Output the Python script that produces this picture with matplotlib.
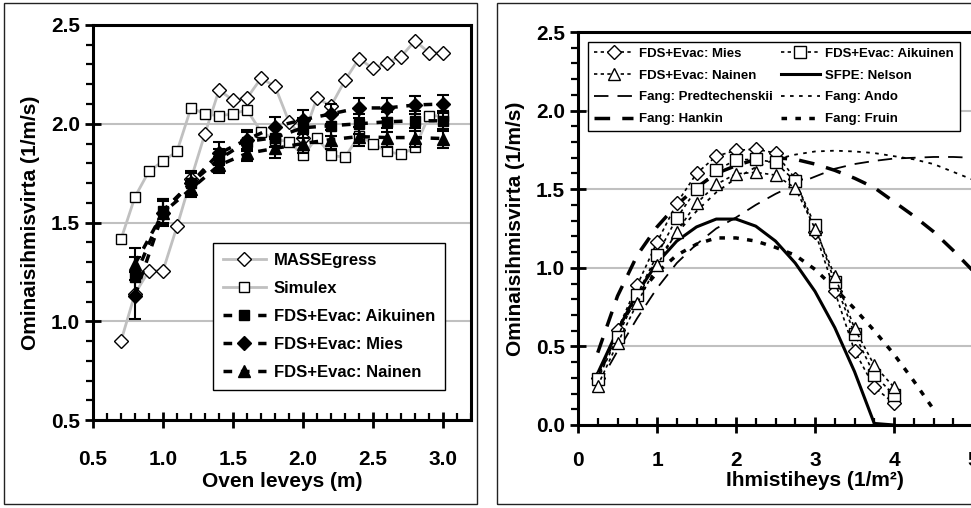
import matplotlib
matplotlib.use('Agg')
import matplotlib.pyplot as plt
import matplotlib.patches as mpatches
from matplotlib.ticker import MultipleLocator, FormatStrFormatter
from matplotlib.lines import Line2D

plt.rcParams['font.family'] = ['Liberation Sans', 'DejaVu Sans']
plt.rcParams['font.weight'] = 'bold'
plt.rcParams['axes.labelweight'] = 'bold'

# --- left panel: flow vs door width ---
mass_x = [0.7, 0.8, 0.9, 1.0, 1.1, 1.2, 1.3, 1.4, 1.5, 1.6, 1.7, 1.8, 1.9, 2.0,
          2.1, 2.2, 2.3, 2.4, 2.5, 2.6, 2.7, 2.8, 2.9, 3.0]
mass_y = [0.90, 1.14, 1.256, 1.256, 1.48, 1.72, 1.95, 2.17, 2.12, 2.13, 2.23, 2.19, 2.01, 1.93,
          2.13, 2.09, 2.22, 2.33, 2.28, 2.31, 2.34, 2.42, 2.36, 2.36]

simx_x = [0.7, 0.8, 0.9, 1.0, 1.1, 1.2, 1.3, 1.4, 1.5, 1.6, 1.7, 1.8, 1.9, 2.0,
          2.1, 2.2, 2.3, 2.4, 2.5, 2.6, 2.7, 2.8, 2.9, 3.0]
simx_y = [1.415, 1.63, 1.76, 1.81, 1.86, 2.08, 2.05, 2.04, 2.05, 2.07, 1.96, 1.92, 1.91, 1.84,
          1.93, 1.84, 1.83, 1.94, 1.90, 1.86, 1.845, 1.88, 2.04, 2.04]

fds_x = [0.8, 1.0, 1.2, 1.4, 1.6, 1.8, 2.0, 2.2, 2.4, 2.6, 2.8, 3.0]
aik_y = [1.226, 1.56, 1.70, 1.82, 1.91, 1.93, 1.98, 1.99, 2.00, 2.01, 2.015, 2.015]
aik_err = [0.10, 0.06, 0.05, 0.05, 0.05, 0.05, 0.05, 0.05, 0.05, 0.05, 0.05, 0.05]
mies_y = [1.13, 1.55, 1.70, 1.85, 1.92, 1.985, 2.02, 2.05, 2.08, 2.08, 2.095, 2.10]
mies_err = [0.12, 0.07, 0.06, 0.06, 0.05, 0.05, 0.05, 0.05, 0.05, 0.05, 0.045, 0.045]
nain_y = [1.29, 1.55, 1.67, 1.79, 1.85, 1.875, 1.90, 1.92, 1.935, 1.93, 1.93, 1.925]
nain_err = [0.08, 0.06, 0.04, 0.04, 0.04, 0.05, 0.05, 0.05, 0.05, 0.05, 0.05, 0.05]

# --- right panel: flow vs density ---
dens_x = [0.25, 0.5, 0.75, 1.0, 1.25, 1.5, 1.75, 2.0, 2.25, 2.5, 2.75, 3.0, 3.25, 3.5, 3.75, 4.0]
r_mies = [0.30, 0.605, 0.89, 1.163, 1.41, 1.60, 1.71, 1.747, 1.755, 1.73, 1.566, 1.23, 0.85, 0.473, 0.24, 0.138]
r_aik = [0.29, 0.56, 0.83, 1.08, 1.316, 1.50, 1.62, 1.687, 1.69, 1.67, 1.55, 1.27, 0.91, 0.58, 0.32, 0.19]
r_nain = [0.25, 0.52, 0.775, 1.015, 1.23, 1.41, 1.53, 1.598, 1.607, 1.59, 1.507, 1.25, 0.95, 0.615, 0.38, 0.24]
nelson_y = [0.33, 0.60, 0.84, 1.03, 1.17, 1.26, 1.31, 1.31, 1.265, 1.17, 1.03, 0.85, 0.62, 0.34, 0.01, 0.0]

fang_x = [0.25, 0.5, 0.75, 1.0, 1.25, 1.5, 1.75, 2.0, 2.25, 2.5, 2.75, 3.0, 3.25, 3.5, 3.75,
          4.0, 4.25, 4.5, 4.75, 5.0, 5.5, 6.0]
predt_y = [0.25, 0.47, 0.68, 0.87, 1.03, 1.15, 1.25, 1.32, 1.40, 1.47, 1.53, 1.58, 1.63, 1.66, 1.68,
           1.695, 1.70, 1.705, 1.705, 1.70, 1.69, 1.68]
hankin_y = [0.46, 0.82, 1.08, 1.26, 1.40, 1.51, 1.60, 1.65, 1.69, 1.70, 1.69, 1.66, 1.62, 1.57, 1.51,
            1.42, 1.33, 1.23, 1.11, 0.98, 0.70, 0.38]
ando_y = [0.32, 0.60, 0.85, 1.05, 1.22, 1.36, 1.48, 1.57, 1.64, 1.69, 1.72, 1.74, 1.745, 1.74, 1.73,
          1.71, 1.69, 1.66, 1.61, 1.56, 1.44, 1.30]
fruin_x = [0.25, 0.5, 0.75, 1.0, 1.25, 1.5, 1.75, 2.0, 2.25, 2.5, 2.75, 3.0, 3.25, 3.5, 3.75,
           4.0, 4.25, 4.5]
fruin_y = [0.30, 0.60, 0.82, 0.97, 1.08, 1.15, 1.19, 1.19, 1.17, 1.13, 1.08, 0.99, 0.87, 0.74, 0.60,
           0.45, 0.28, 0.10]

W, H = 971, 508
fig = plt.figure(figsize=(W / 100, H / 100), dpi=100)

# panel frames
for x0, x1 in [(4, 477), (497, 975)]:
    fig.patches.append(mpatches.Rectangle((x0 / W, 4 / H), (x1 - x0) / W, 501 / H,
                                          transform=fig.transFigure, fill=False,
                                          edgecolor='#222222', linewidth=1.0))

GRAY = '#c0c0c0'


def style_axes(ax, xmaj, xmin, ymaj, ymin, xpad):
    for s in ax.spines.values():
        s.set_linewidth(2.2)
    ax.xaxis.set_major_locator(MultipleLocator(xmaj))
    ax.xaxis.set_minor_locator(MultipleLocator(xmin))
    ax.yaxis.set_major_locator(MultipleLocator(ymaj))
    ax.yaxis.set_minor_locator(MultipleLocator(ymin))
    ax.tick_params(axis='both', which='major', direction='inout', length=11, width=2,
                   labelsize=15, top=False, right=False)
    ax.tick_params(axis='x', which='minor', direction='in', length=5, width=1.6, top=False)
    ax.tick_params(axis='y', which='minor', direction='out', length=5, width=1.6, right=False)
    ax.tick_params(axis='x', which='major', pad=xpad)
    ax.tick_params(axis='y', which='major', pad=4)
    ax.yaxis.grid(True, which='major', color=GRAY, linewidth=1.5)
    ax.set_axisbelow(True)


# ---------------- left ----------------
ax1 = fig.add_axes([93 / W, 88 / H, 378 / W, 395 / H])
style_axes(ax1, 0.5, 0.1, 0.5, 0.1, 16)
ax1.set_xlim(0.5, 3.2)
ax1.set_ylim(0.5, 2.5)
ax1.xaxis.set_major_formatter(FormatStrFormatter('%.1f'))
ax1.yaxis.set_major_formatter(FormatStrFormatter('%.1f'))

ax1.plot(mass_x, mass_y, color=GRAY, lw=2, marker='D', ms=7, mfc='white', mec='black',
         mew=1, label='MASSEgress', zorder=3)
ax1.plot(simx_x, simx_y, color=GRAY, lw=2, marker='s', ms=7.5, mfc='white', mec='black',
         mew=1, label='Simulex', zorder=3)

fds_ls = (0, (2.5, 2.5))
for y, e, m, ms, lab in [(aik_y, aik_err, 's', 7, 'FDS+Evac: Aikuinen'),
                         (mies_y, mies_err, 'D', 7, 'FDS+Evac: Mies'),
                         (nain_y, nain_err, '^', 8, 'FDS+Evac: Nainen')]:
    ax1.errorbar(fds_x, y, yerr=e, color='black', lw=2.5, ls=fds_ls, marker=m, ms=ms,
                 mfc='black', mec='black', ecolor='black', elinewidth=1.5, capsize=4,
                 capthick=1.5, label=lab, zorder=4)

ax1.set_xlabel('Oven leveys (m)', fontsize=15, labelpad=2)
ax1.set_ylabel('Ominaisihmisvirta (1/m/s)', fontsize=15, labelpad=8)

leg1_handles = [
    Line2D([], [], color=GRAY, lw=2, marker='D', ms=7, mfc='white', mec='black', mew=1),
    Line2D([], [], color=GRAY, lw=2, marker='s', ms=7.5, mfc='white', mec='black', mew=1),
    Line2D([], [], color='black', lw=2.5, ls=fds_ls, marker='s', ms=7),
    Line2D([], [], color='black', lw=2.5, ls=fds_ls, marker='D', ms=7),
    Line2D([], [], color='black', lw=2.5, ls=fds_ls, marker='^', ms=8),
]
leg1 = ax1.legend(leg1_handles, ['MASSEgress', 'Simulex', 'FDS+Evac: Aikuinen',
                                 'FDS+Evac: Mies', 'FDS+Evac: Nainen'],
                  loc='lower left', bbox_to_anchor=(0.317, 0.076), fontsize=12,
                  frameon=True, fancybox=False, edgecolor='black', framealpha=1,
                  handlelength=2.6, handletextpad=0.45, labelspacing=0.78,
                  borderpad=0.6, borderaxespad=0)
leg1.get_frame().set_linewidth(1.0)

# ---------------- right ----------------
ax2 = fig.add_axes([578 / W, 83 / H, 474 / W, 393 / H])
style_axes(ax2, 1, 0.25, 0.5, 0.1, 13)
ax2.set_xlim(0, 6)
ax2.set_ylim(0, 2.5)
ax2.xaxis.set_major_formatter(FormatStrFormatter('%d'))
ax2.yaxis.set_major_formatter(FormatStrFormatter('%.1f'))

dot_ls = (0, (2, 2))
ax2.plot(fang_x, predt_y, color='black', lw=1.3, ls=(0, (8, 5)), zorder=2)
ax2.plot(fang_x, hankin_y, color='black', lw=2.5, ls=(0, (4.5, 3.5)), zorder=2)
ax2.plot(fang_x, ando_y, color='black', lw=1.3, ls=(0, (2, 3)), zorder=2)
ax2.plot(fruin_x, fruin_y, color='black', lw=2.5, ls=(0, (1.6, 2.4)), zorder=2)
ax2.plot(dens_x, nelson_y, color='black', lw=2.2, zorder=2)
ax2.plot(dens_x, r_mies, color='black', lw=1.2, ls=dot_ls, marker='D', ms=7.5,
         mfc='white', mec='black', mew=1, zorder=3)
ax2.plot(dens_x, r_aik, color='black', lw=1.2, ls=dot_ls, marker='s', ms=8,
         mfc='white', mec='black', mew=1, zorder=3)
ax2.plot(dens_x, r_nain, color='black', lw=1.2, ls=dot_ls, marker='^', ms=9,
         mfc='white', mec='black', mew=1, zorder=3)

ax2.set_xlabel('Ihmistiheys (1/m²)', fontsize=15, labelpad=1)
ax2.set_ylabel('Ominaisihmisvirta (1/m/s)', fontsize=15, labelpad=8)

leg2_items = [
    (Line2D([], [], color='black', lw=1.2, ls=dot_ls, marker='D', ms=7.5, mfc='white', mew=1), 'FDS+Evac: Mies'),
    (Line2D([], [], color='black', lw=1.2, ls=dot_ls, marker='^', ms=9, mfc='white', mew=1), 'FDS+Evac: Nainen'),
    (Line2D([], [], color='black', lw=1.3, ls=(0, (8, 5))), 'Fang: Predtechenskii'),
    (Line2D([], [], color='black', lw=2.5, ls=(0, (4.5, 3.5))), 'Fang: Hankin'),
    (Line2D([], [], color='black', lw=1.2, ls=dot_ls, marker='s', ms=8, mfc='white', mew=1), 'FDS+Evac: Aikuinen'),
    (Line2D([], [], color='black', lw=2.2), 'SFPE: Nelson'),
    (Line2D([], [], color='black', lw=1.3, ls=(0, (2, 3))), 'Fang: Ando'),
    (Line2D([], [], color='black', lw=2.5, ls=(0, (1.6, 2.4))), 'Fang: Fruin'),
]
leg2 = ax2.legend([a for a, b in leg2_items], [b for a, b in leg2_items], ncol=2,
                  loc='upper left', bbox_to_anchor=(0.021, 0.975), fontsize=9.5,
                  frameon=True, fancybox=False, edgecolor='black', framealpha=1,
                  handlelength=3.0, handletextpad=0.4, labelspacing=0.72,
                  columnspacing=0.6, borderpad=0.45, borderaxespad=0)
leg2.get_frame().set_linewidth(1.0)

fig.savefig('out.png', dpi=100)
